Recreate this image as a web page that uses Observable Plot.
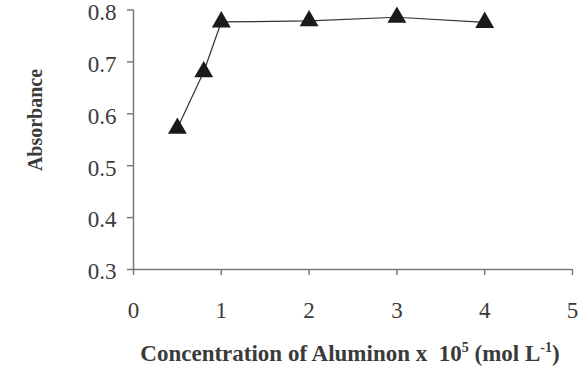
<!DOCTYPE html>
<html>
<head>
<meta charset="utf-8">
<script src="https://cdn.jsdelivr.net/npm/d3@7"></script>
<script src="https://cdn.jsdelivr.net/npm/@observablehq/plot@0.6"></script>
<style>
  html, body { margin: 0; padding: 0; background: #fff; }
  svg { display: block; overflow: visible; }
</style>
</head>
<body>
<div id="chart"></div>
<script>
// Data
const concentration = [0.5, 0.8, 1, 2, 3, 4];
const absorbance = [0.572, 0.681, 0.777, 0.779, 0.786, 0.776];
const xTicks = [0, 1, 2, 3, 4, 5];
const yTicks = [0.3, 0.4, 0.5, 0.6, 0.7, 0.8];
const yLabel = "Absorbance";
const xLabelMain = "Concentration of Aluminon x  10";
const xLabelSup1 = "5";
const xLabelMid = " (mol L";
const xLabelSup2 = "-1";
const xLabelEnd = ")";

const data = concentration.map((c, i) => ({c, a: absorbance[i]}));
const axisColor = "#7a7a7a";
const textColor = "#3a3a3a";

const plot = Plot.plot({
  width: 581,
  height: 366,
  marginTop: 9.5,
  marginBottom: 97,
  marginLeft: 133,
  marginRight: 9,
  style: {fontFamily: "'Liberation Serif', serif", fontSize: "23px", color: textColor, background: "#fff", overflow: "visible"},
  x: {domain: [0, 5]},
  y: {domain: [0.3, 0.8]},
  marks: [
    Plot.axisX({ticks: xTicks, tickSize: 6, tickPadding: 26, label: null, stroke: axisColor, fill: textColor, tickFormat: d3.format("d")}),
    Plot.axisY({ticks: yTicks, tickSize: 6, label: null, stroke: axisColor, tickFormat: () => ""}),
    Plot.text(yTicks, {x: 0, y: d => d, text: d3.format(".1f"), textAnchor: "end", dx: -17, dy: 2.5, fill: textColor, fontSize: 23}),
    Plot.ruleX([0], {y1: 0.3, y2: 0.8, stroke: axisColor, strokeWidth: 1.5}),
    Plot.ruleY([0.3], {x1: 0, x2: 5, stroke: axisColor, strokeWidth: 1.5}),
    Plot.line(data, {x: "c", y: "a", stroke: "#333", strokeWidth: 1.2}),
    Plot.dot(data, {x: "c", y: "a", symbol: "triangle", r: 7, fill: "#1a1a1a", stroke: "none"})
  ]
});

const svg = d3.select(plot);
svg.selectAll('g[aria-label="x-axis tick"] path, g[aria-label="y-axis tick"] path').attr("stroke-width", 1.5);

svg.append("text")
  .attr("transform", "translate(42,120) rotate(-90)")
  .attr("text-anchor", "middle")
  .attr("font-weight", "bold")
  .attr("font-size", 20)
  .attr("fill", textColor)
  .text(yLabel);

const xl = svg.append("text")
  .attr("x", 350)
  .attr("y", 361)
  .attr("text-anchor", "middle")
  .attr("font-weight", "bold")
  .attr("font-size", 23)
  .attr("fill", textColor)
  .style("white-space", "pre")
  .attr("xml:space", "preserve");
xl.append("tspan").text(xLabelMain);
xl.append("tspan").attr("font-size", 14).attr("dy", -9).text(xLabelSup1);
xl.append("tspan").attr("dy", 9).text(xLabelMid);
xl.append("tspan").attr("font-size", 14).attr("dy", -9).text(xLabelSup2);
xl.append("tspan").attr("dy", 9).text(xLabelEnd);

document.getElementById("chart").appendChild(plot);
</script>
</body>
</html>
